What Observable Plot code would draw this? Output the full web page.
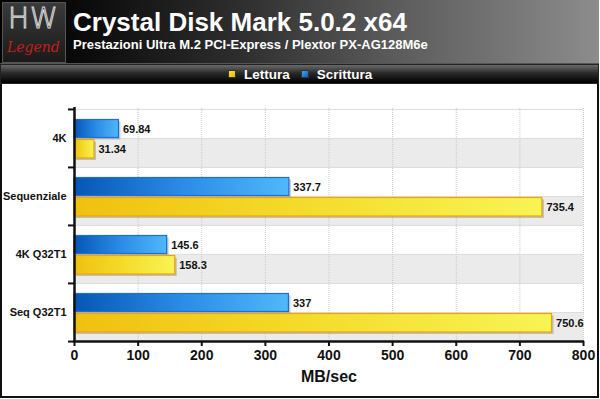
<!DOCTYPE html>
<html><head><meta charset="utf-8">
<script src="https://cdn.jsdelivr.net/npm/d3@7"></script>
<script src="https://cdn.jsdelivr.net/npm/@observablehq/plot@0.6"></script>
<style>
body{margin:0;background:#fff;font-family:"Liberation Sans",Arial,sans-serif;}
#wrap{position:relative;width:600px;height:399px;overflow:hidden;background:#fff;}
#head{position:absolute;left:0;top:0;width:599px;height:64px;background:linear-gradient(to right,#000 0%,#0c0c0c 15%,#2e2e2e 40%,#5a5a5a 65%,#8c8c8c 100%);border-bottom:1px solid #555;box-sizing:border-box;}
#logo{position:absolute;left:2px;top:2px;width:64px;height:61px;background:linear-gradient(#3a3a3a,#1a1a1a);border:1px solid #555;box-sizing:border-box;}
#logo .hw{position:absolute;left:5px;top:-1px;font-family:"DejaVu Sans";font-weight:200;font-size:28px;color:#222;-webkit-text-stroke:1px #ddd;letter-spacing:1px;}
#logo .lg{position:absolute;left:4px;top:36px;font-family:"DejaVu Serif";font-style:italic;font-size:14px;color:#c0201c;}
#title{position:absolute;left:73px;top:7px;font-weight:bold;font-size:26px;color:#fff;white-space:nowrap;}
#sub{position:absolute;left:73px;top:37px;font-weight:bold;font-size:13px;color:#fff;white-space:nowrap;}
#legbar{position:absolute;left:0;top:64px;width:599px;height:20px;background:linear-gradient(#6a6a6a,#2a2a2a 45%,#000);border:1px solid #222;box-sizing:border-box;}
#legend{position:absolute;left:228px;top:66px;display:flex;align-items:center;height:16px;}
#legend .it{display:flex;align-items:center;margin-right:11px;color:#fff;font-weight:bold;font-size:13.5px;}
#legend .sw{width:8px;height:8px;border:1px solid #333;margin-right:8px;box-sizing:border-box;}
#chart{position:absolute;left:0;top:84px;}
#frame{position:absolute;left:0;top:84px;width:599px;height:314px;border:2px solid #111;border-top:none;box-sizing:border-box;pointer-events:none;}
</style></head>
<body>
<div id="wrap">
  <div id="head">
    <div id="logo"><div class="hw">HW</div><div class="lg">Legend</div></div>
    <div id="title">Crystal Disk Mark 5.0.2 x64</div>
    <div id="sub">Prestazioni Ultra M.2 PCI-Express / Plextor PX-AG128M6e</div>
  </div>
  <div id="legbar"></div>
  <div id="legend"></div>
  <div id="chart"></div>
  <div id="frame"></div>
</div>
<script>
const categories = ["4K", "Sequenziale", "4K Q32T1", "Seq Q32T1"];
const seriesNames = ["Scrittura", "Lettura"];
const legendOrder = ["Lettura", "Scrittura"];
const scrittura = [69.84, 337.7, 145.6, 337];
const lettura = [31.34, 735.4, 158.3, 750.6];
const xTicks = [0, 100, 200, 300, 400, 500, 600, 700, 800];

const data = categories.flatMap((c, i) => [
  {cat: c, series: "Scrittura", key: c + "|Scrittura", value: scrittura[i]},
  {cat: c, series: "Lettura", key: c + "|Lettura", value: lettura[i]}
]);
const yDomain = data.map(d => d.key);
const W = 600, H = 314, mT = 24, mB = 57, mL = 74, mR = 17;
const bh = (H - mT - mB) / yDomain.length;
const S = data.filter(d => d.series === "Scrittura");
const L = data.filter(d => d.series === "Lettura");
const lastKey = [yDomain[yDomain.length - 1]];

const plot = Plot.plot({
  width: W, height: H, marginTop: mT, marginBottom: mB, marginLeft: mL, marginRight: mR,
  style: {fontFamily: "'Liberation Sans', Arial, sans-serif", background: "transparent", overflow: "visible"},
  x: {domain: [0, 800]},
  y: {domain: yDomain, padding: 0, axis: null},
  marks: [
    Plot.barX(S, {x1: 0, x2: 800, y: "key", fill: "#ffffff"}),
    Plot.barX(L, {x1: 0, x2: 800, y: "key", fill: "#ebebeb"}),
    Plot.ruleY(data, {y: "key", x1: 0, x2: 800, dy: -bh / 2, stroke: "#dcdcdc", strokeWidth: 1}),
    Plot.ruleX(xTicks.slice(1), {stroke: "#c8c8c8", strokeWidth: 1, strokeDasharray: "1,1"}),
    // shadows
    Plot.barX(S, {x1: 0, x2: "value", y: "key", insetTop: 10.5, insetBottom: 0.5, fill: "#888", fillOpacity: 0.45, dx: 2, dy: 2}),
    Plot.barX(L, {x1: 0, x2: "value", y: "key", insetTop: 1.5, insetBottom: 9, fill: "#888", fillOpacity: 0.45, dx: 2, dy: 2}),
    // bars
    Plot.barX(S, {x1: 0, x2: "value", y: "key", insetTop: 10.5, insetBottom: 0.5, fill: "url(#gBlue)", stroke: "#1c6fd6", strokeWidth: 1.2}),
    Plot.barX(L, {x1: 0, x2: "value", y: "key", insetTop: 1.5, insetBottom: 9, fill: "url(#gYel)", stroke: "#f0a400", strokeWidth: 1.2}),
    // value labels
    Plot.text(S, {x: "value", y: "key", text: d => String(d.value), dx: 4, dy: 5, textAnchor: "start", fontWeight: "bold", fontSize: 11, fill: "#111"}),
    Plot.text(L, {x: "value", y: "key", text: d => String(d.value), dx: 4, dy: -3.5, textAnchor: "start", fontWeight: "bold", fontSize: 11, fill: "#111"}),
    // category labels
    Plot.text(S, {y: "key", text: "cat", frameAnchor: "left", dx: -8, dy: bh / 2, textAnchor: "end", fontWeight: "bold", fontSize: 11, fill: "#111"}),
    // left axis line and ticks
    Plot.ruleX([0], {stroke: "#111", strokeWidth: 2.5, insetTop: -1, insetBottom: -1}),
    Plot.ruleY(S, {y: "key", x1: 0, x2: 0, dy: -bh / 2, insetLeft: -6, stroke: "#111", strokeWidth: 2}),
    Plot.ruleY(lastKey, {y: d => d, x1: 0, x2: 0, dy: bh / 2, insetLeft: -6, stroke: "#111", strokeWidth: 2}),
    // bottom axis line
    Plot.ruleY(lastKey, {y: d => d, x1: 0, x2: 800, dy: bh / 2, insetLeft: -1, insetRight: -1, stroke: "#111", strokeWidth: 2.5}),
    Plot.axisX({ticks: xTicks, tickSize: 5, tickPadding: 4, strokeWidth: 2, stroke: "#111", fill: "#111",
      fontSize: 14, fontWeight: "bold", label: "MB/sec", labelAnchor: "center", labelOffset: 40, labelArrow: "none"})
  ]
});

const defs = `<defs>
<linearGradient id="gBlue" x1="0" x2="1" y1="0" y2="0">
<stop offset="0" stop-color="#0656b4"/><stop offset="0.5" stop-color="#2b8be6"/><stop offset="1" stop-color="#50b8fa"/></linearGradient>
<linearGradient id="gYel" x1="0" x2="1" y1="0" y2="0">
<stop offset="0" stop-color="#f0c010"/><stop offset="0.5" stop-color="#f4dc2c"/><stop offset="1" stop-color="#f8f454"/></linearGradient>
</defs>`;
d3.select(plot).insert("g", ":first-child").html(defs);
d3.select(plot).selectAll('g[aria-label="x-axis label"] text, g[aria-label="x-axis label"]').attr("font-size", 16);
document.getElementById("chart").appendChild(plot);

const leg = d3.select("#legend");
legendOrder.forEach(n => {
  const it = leg.append("div").attr("class", "it");
  it.append("div").attr("class", "sw").style("background", n === "Lettura"
    ? "linear-gradient(135deg,#f8e040,#e8b800)" : "linear-gradient(135deg,#40a8f0,#0a5cc0)");
  it.append("span").text(n);
});
</script>
</body></html>
